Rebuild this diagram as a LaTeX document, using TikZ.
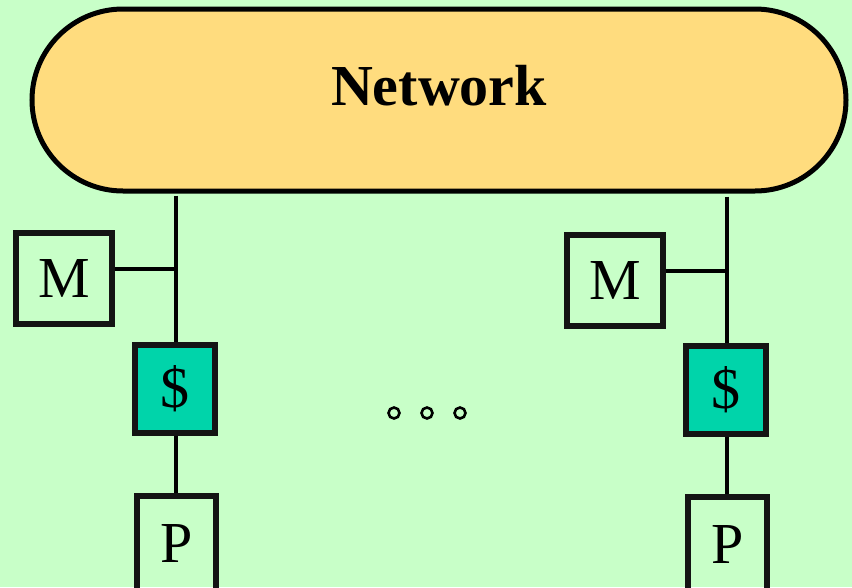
\documentclass[tikz,border=0pt]{standalone}
\usepackage{fontspec}
\setmainfont{Liberation Serif}
\definecolor{bg}{RGB}{200,255,200}
\definecolor{netfill}{RGB}{255,220,126}
\definecolor{cachefill}{RGB}{0,212,170}
\definecolor{boxline}{RGB}{20,20,20}
\begin{document}
\begin{tikzpicture}[x=1pt,y=-1pt,
  netbox/.style={draw=black,line width=5pt,fill=netfill,rounded corners=91pt,
    minimum width=814pt,minimum height=182pt,inner sep=0pt,
    font=\fontsize{58}{60}\selectfont\bfseries,text height=40pt,text depth=30pt},
  membox/.style={draw=boxline,line width=5.5pt,minimum width=96pt,minimum height=91pt,
    inner sep=0pt,font=\fontsize{58}{60}\selectfont},
  cachebox/.style={draw=boxline,line width=5.5pt,fill=cachefill,minimum width=80pt,
    minimum height=88pt,inner sep=0pt,font=\fontsize{58}{60}\selectfont},
  procbox/.style={draw=boxline,line width=5.5pt,minimum width=79pt,minimum height=96pt,
    inner sep=0pt,font=\fontsize{58}{60}\selectfont},
  wire/.style={line width=4pt,black},
  dot/.style={circle,draw=black,line width=2.6pt,minimum size=11pt,inner sep=0pt}]
\useasboundingbox (0,0) rectangle (852,587);
\fill[bg] (0,0) rectangle (852,587);
\clip (0,0) rectangle (852,587);
\node[netbox] (net) at (439,100) {Network};
% left column
\node[membox] (m1) at (64,278.5) {M};
\node[cachebox] (s1) at (175,389) {\$};
\node[procbox] (p1) at (176.5,544) {P};
\coordinate (j1) at (176,269);
\draw[wire,shorten <=2pt] (net.south -| j1) -- (j1 |- s1.north);
\draw[wire] (m1.east |- j1) -- (j1);
\draw[wire] (s1.south -| j1) -- (j1 |- p1.north);
% right column
\node[membox] (m2) at (615,280.5) {M};
\node[cachebox] (s2) at (726,390) {\$};
\node[procbox] (p2) at (727.5,545) {P};
\coordinate (j2) at (727,271);
\draw[wire,shorten <=3pt] (net.south -| j2) -- (j2 |- s2.north);
\draw[wire] (m2.east |- j2) -- (j2);
\draw[wire] (s2.south -| j2) -- (j2 |- p2.north);
% dots
\node[dot] (d1) at (394,413) {};
\node[dot] (d2) at (427,413) {};
\node[dot] (d3) at (460,413) {};
\end{tikzpicture}
\end{document}
